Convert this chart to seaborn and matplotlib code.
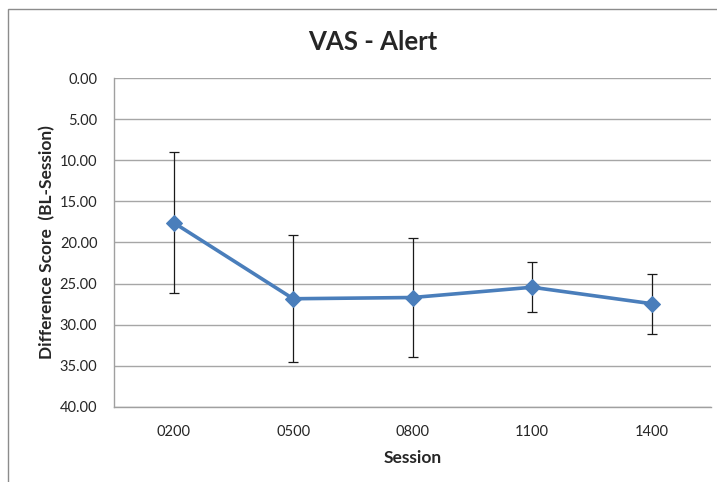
import matplotlib
matplotlib.use("Agg")
import matplotlib.pyplot as plt
import seaborn as sns
import pandas as pd
from matplotlib.patches import Rectangle

sessions = ["0200", "0500", "0800", "1100", "1400"]
diff_score = [17.6, 26.85, 26.7, 25.45, 27.45]
err = [8.6, 7.75, 7.2, 3.05, 3.65]
y_ticks = [0, 5, 10, 15, 20, 25, 30, 35, 40]

df = pd.DataFrame({"pos": range(len(sessions)), "session": sessions, "score": diff_score})

sns.set_style("white")
plt.rcParams["font.family"] = ["Lato", "DejaVu Sans"]

fig = plt.figure(figsize=(7.17, 4.82), dpi=100)
ax = fig.add_axes([0.159, 0.156, 0.833, 0.682])

# outer chart frame
fig.patches.append(Rectangle((8 / 717, -0.01), 1.0, 1 - 9 / 482 + 0.01, transform=fig.transFigure,
                             fill=False, edgecolor="#8c8c8c", linewidth=1.0))

ax.errorbar(df["pos"], df["score"], yerr=err, fmt="none", ecolor="#1a1a1a",
            elinewidth=0.9, capsize=3.5, capthick=0.9, zorder=2)
sns.lineplot(data=df, x="pos", y="score", ax=ax, color="#4a7ebb", linewidth=2.6,
             marker="D", markersize=8, markeredgecolor="#4a7ebb", zorder=3)

ax.set_ylim(40, 0)
ax.set_yticks(y_ticks)
ax.set_yticklabels([f"{v:.2f}" for v in y_ticks], fontsize=10.5)
ax.set_xlim(-0.5, len(sessions) - 0.5)
ax.set_xticks(range(len(sessions)))
ax.set_xticklabels(sessions, fontsize=10.5)
ax.set_xticks([i - 0.5 for i in range(len(sessions) + 1)], minor=True)
ax.tick_params(axis="x", which="major", length=0, pad=13)
ax.tick_params(axis="x", which="minor", length=5, color="#a0a0a0", width=1)
ax.tick_params(axis="y", which="major", length=5, color="#a0a0a0", width=1, pad=7)

ax.grid(axis="y", color="#a6a6a6", linewidth=1.0)
ax.set_axisbelow(True)
for s in ["top", "right"]:
    ax.spines[s].set_visible(False)
for s in ["left", "bottom"]:
    ax.spines[s].set_color("#a0a0a0")
    ax.spines[s].set_linewidth(1.0)

fig.suptitle("VAS - Alert", x=373 / 717, y=1 - 42 / 482, va="center",
             fontsize=18.5, fontweight="bold")
ax.set_xlabel("Session", fontsize=12.5, fontweight="bold", labelpad=8)
ax.set_ylabel("Difference Score  (BL-Session)", fontsize=12.5, fontweight="bold", labelpad=3)

fig.savefig("out.png", dpi=100)
